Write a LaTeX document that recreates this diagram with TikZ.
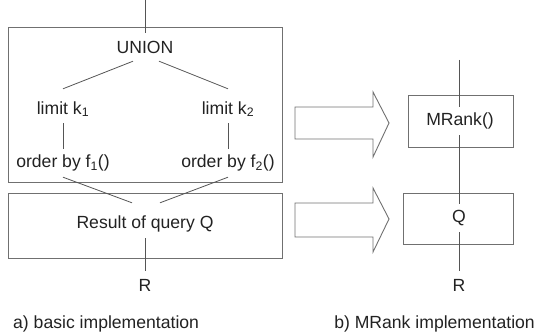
\documentclass[tikz,border=0pt]{standalone}
\usepackage{fontspec}
\setmainfont{Liberation Sans}
\definecolor{linec}{HTML}{555555}
\definecolor{boxc}{HTML}{707070}
\definecolor{txtc}{HTML}{222222}
\begin{document}
\begin{tikzpicture}[x=1pt,y=-1pt,
  every node/.style={font=\fontsize{17.6}{20}\selectfont, text=txtc},
  lbl/.style={inner sep=0pt, minimum height=28pt, anchor=center},
  framebox/.style={draw=boxc, line width=0.9pt, inner sep=0pt},
  conn/.style={draw=linec, line width=0.8pt},
  bigarrow/.style={draw=boxc, line width=0.9pt, fill=white}]
\useasboundingbox (0,0) rectangle (537,336);
% left frames
\node[framebox, minimum width=274pt, minimum height=155pt] (boxA) at (145,104.5) {};
\node[framebox, minimum width=274pt, minimum height=65pt] (boxB) at (145,225.5) {};
% left labels
\coordinate (topA) at (145,0);
\node[lbl] (u) at (145,47) {UNION};
\node[lbl] (l1) at (63,109) {limit k\textsubscript{1}};
\node[lbl] (l2) at (228,109) {limit k\textsubscript{2}};
\node[lbl] (o1) at (63,163) {order by f\textsubscript{1}()};
\node[lbl] (o2) at (228,163) {order by f\textsubscript{2}()};
\node[lbl] (res) at (145,224) {Result of query Q};
\node[lbl] (rA) at (145,285) {R};
\draw[conn] (topA) -- (u.north);
\draw[conn] ([xshift=-12pt]u.south) -- ([yshift=6pt]l1.north);
\draw[conn] ([xshift=14pt]u.south) -- ([yshift=6pt]l2.north);
\draw[conn] (l1.south) -- (o1.north);
\draw[conn] (l2.south) -- (o2.north);
\draw[conn] (o1.south) -- ([xshift=-13pt,yshift=7pt]res.north);
\draw[conn] (o2.south) -- ([xshift=15pt,yshift=7pt]res.north);
\draw[conn] (res.south) -- (rA.north);
% arrows
\draw[bigarrow] (295,107) -- (373,107) -- (373,92) -- (389,123) -- (373,157) -- (373,139) -- (295,139) -- cycle;
\draw[bigarrow] (295,203) -- (373,203) -- (373,188) -- (389,219) -- (373,252) -- (373,237) -- (295,237) -- cycle;
% right side
\node[framebox, minimum width=105pt, minimum height=52pt] (boxM) at (460.5,121) {};
\node[framebox, minimum width=110pt, minimum height=51pt] (boxQ) at (458,218.5) {};
\coordinate (topB) at (459,60);
\node[lbl] (mr) at (460,121) {MRank()};
\node[lbl] (q) at (459,218) {Q};
\node[lbl] (rB) at (459,285) {R};
\draw[conn] (topB) -- (topB |- mr.north);
\draw[conn] (topB |- mr.south) -- (q.north);
\draw[conn] (q.south) -- (rB.north);
% captions
\node[anchor=west, inner sep=0pt] (capA) at (13,324) {a) basic implementation};
\node[anchor=east, inner sep=0pt] (capB) at (535,324) {b) MRank implementation};
\end{tikzpicture}
\end{document}
